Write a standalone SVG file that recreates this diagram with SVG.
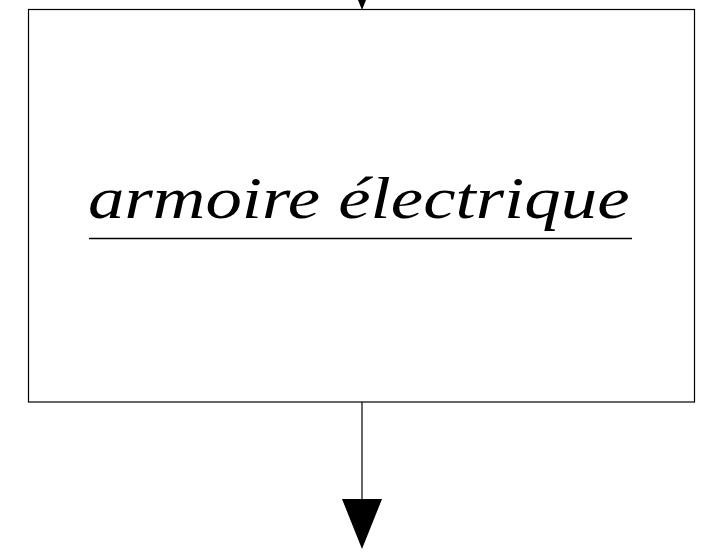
<svg xmlns="http://www.w3.org/2000/svg" width="702" height="559" viewBox="0 0 702 559">
<style>
.box{fill:#fff;stroke:#000;stroke-width:1.2}
.edge{stroke:#000;stroke-width:1.2;fill:none}
.head{fill:#000}
.lbl{font-family:'Liberation Serif','Times New Roman',serif;font-style:italic;font-size:59px;fill:#000}
</style>
<rect width="702" height="559" fill="#fff"/>
<g id="armoire">
<rect class="box" x="28.5" y="9.5" width="666" height="392.5"/>
<text class="lbl" transform="translate(88,218) scale(1.235,1)" x="0" y="0">armoire électrique</text>
<line x1="89" y1="238.5" x2="632" y2="238.5" stroke="#000" stroke-width="1.5"/>
</g>
<g id="connectors">
<polygon class="head" points="342,-40 382,-40 362,10"/>
<line class="edge" x1="362" y1="402" x2="362" y2="500"/>
<polygon class="head" points="342,499 382,499 362,549"/>
</g>
</svg>
